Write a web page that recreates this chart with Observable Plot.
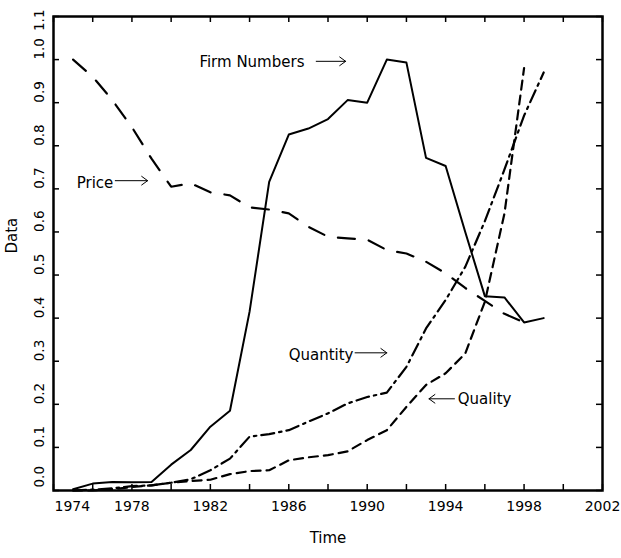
<!DOCTYPE html>
<html>
<head>
<meta charset="utf-8">
<script src="https://cdn.jsdelivr.net/npm/d3@7"></script>
<script src="https://cdn.jsdelivr.net/npm/@observablehq/plot@0.6"></script>
<style>
  html, body { margin: 0; padding: 0; background: #fff; }
</style>
</head>
<body>
<div id="chart"></div>
<script>
// ---- data ----
const years = d3.range(1975, 2000); // 1975..1999
const firm = [0.003, 0.016, 0.020, 0.019, 0.020, 0.060, 0.094, 0.148, 0.185, 0.415,
              0.716, 0.826, 0.840, 0.862, 0.906, 0.900, 1.000, 0.993, 0.772, 0.753,
              0.600, 0.451, 0.448, 0.390, 0.400];
const price = [1.000, 0.960, 0.906, 0.843, 0.770, 0.705, 0.713, 0.692, 0.685, 0.657,
               0.652, 0.643, 0.612, 0.589, 0.585, 0.582, 0.558, 0.550, 0.531, 0.504,
               0.470, 0.440, 0.410, 0.390];
const quantity = [0.000, 0.002, 0.005, 0.010, 0.012, 0.018, 0.026, 0.047, 0.074, 0.125,
                  0.131, 0.140, 0.160, 0.179, 0.202, 0.217, 0.227, 0.287, 0.376, 0.442,
                  0.519, 0.625, 0.745, 0.870, 0.970];
const quality = [0.000, 0.000, 0.003, 0.008, 0.012, 0.018, 0.022, 0.025, 0.038, 0.045,
                 0.047, 0.070, 0.077, 0.082, 0.091, 0.117, 0.140, 0.194, 0.245, 0.272,
                 0.318, 0.438, 0.643, 0.980];

const xTickLabels = [1974, 1978, 1982, 1986, 1990, 1994, 1998, 2002];
const xMinorTicks = d3.range(1974, 2003, 2);
const yTickValues = d3.range(0, 11.5, 1).map(d => d / 10);

// annotations (data coordinates)
const annText = ["Firm Numbers", "Price", "Quantity", "Quality"];
const annTextX = [1986.8, 1977.05, 1989.3, 1994.62];
const annTextY = [0.993, 0.714, 0.314, 0.212];
const annArrowX1 = [1987.4, 1977.15, 1989.38, 1994.45];
const annArrowX2 = [1988.9, 1978.8, 1991.0, 1993.15];
const annArrowY = [0.996, 0.719, 0.3195, 0.2128];

// ---- build tables ----
const toRows = arr => arr.map((v, i) => ({t: years[i], v}));
const firmRows = toRows(firm);
const priceRows = toRows(price);
const quantityRows = toRows(quantity);
const qualityRows = toRows(quality);
const annRows = annText.map((s, i) => ({s, x: annTextX[i], y: annTextY[i],
  x1: annArrowX1[i], x2: annArrowX2[i], ay: annArrowY[i]}));

const W = 621, H = 558;
const mL = 53, mR = 19, mT = 16, mB = 68;
const innerW = W - mL - mR, innerH = H - mT - mB;
const tick = 6;

const yFirst = yTickValues.slice(0, 1);
const yMid = yTickValues.slice(1, -1);
const yLast = yTickValues.slice(-1);
const yLabelOpts = {y: d => d, frameAnchor: "left", dx: -14, rotate: -90, text: d => d.toFixed(1), fontSize: 13.5};

const chart = Plot.plot({
  width: W, height: H,
  marginLeft: mL, marginRight: mR, marginTop: mT, marginBottom: mB,
  x: {domain: [1974, 2002], axis: null},
  y: {domain: [0, 1.1], axis: null},
  style: {fontFamily: "'DejaVu Sans', sans-serif", fontSize: "14px", color: "black", background: "white", overflow: "visible"},
  marks: [
    // inward ticks on all four sides
    Plot.tickX(xMinorTicks, {x: d => d, insetTop: innerH - tick, stroke: "black", strokeWidth: 1.5}),
    Plot.tickX(xMinorTicks, {x: d => d, insetBottom: innerH - tick, stroke: "black", strokeWidth: 1.5}),
    Plot.tickY(yTickValues, {y: d => d, insetRight: innerW - tick, stroke: "black", strokeWidth: 1.5}),
    Plot.tickY(yTickValues, {y: d => d, insetLeft: innerW - tick, stroke: "black", strokeWidth: 1.5}),
    // series
    Plot.line(firmRows, {x: "t", y: "v", stroke: "black", strokeWidth: 2}),
    Plot.line(priceRows, {x: "t", y: "v", stroke: "black", strokeWidth: 2.2, strokeDasharray: "17,14"}),
    Plot.line(quantityRows, {x: "t", y: "v", stroke: "black", strokeWidth: 2.2, strokeDasharray: "13,5,2.5,5"}),
    Plot.line(qualityRows, {x: "t", y: "v", stroke: "black", strokeWidth: 2.2, strokeDasharray: "9,6"}),
    // frame
    Plot.frame({stroke: "black", strokeWidth: 2.5}),
    // tick labels
    Plot.text(xTickLabels.slice(1), {x: d => d, frameAnchor: "bottom", dy: 20, text: d => String(d), fontSize: 14}),
    Plot.text(xTickLabels.slice(0, 1), {x: d => d, frameAnchor: "bottom", dy: 20, text: d => String(d), textAnchor: "start", dx: 1, fontSize: 14}),
    Plot.text(yFirst, {...yLabelOpts, dy: -3}),
    Plot.text(yMid, yLabelOpts),
    Plot.text(yLast, {...yLabelOpts, textAnchor: "end", dy: -7}),
    // axis titles
    Plot.text(["Time"], {frameAnchor: "bottom", dy: 52, text: d => d, fontSize: 15}),
    Plot.text(["Data"], {frameAnchor: "left", dx: -41, rotate: -90, text: d => d, fontSize: 15}),
    // annotations
    Plot.text(annRows.filter(d => d.s !== "Quality"), {x: "x", y: "y", text: "s", textAnchor: "end", fontSize: 15}),
    Plot.text(annRows.filter(d => d.s === "Quality"), {x: "x", y: "y", text: "s", textAnchor: "start", fontSize: 15}),
    Plot.arrow(annRows, {x1: "x1", x2: "x2", y1: "ay", y2: "ay", stroke: "black", strokeWidth: 1, headLength: 11, headAngle: 72})
  ]
});
document.getElementById("chart").appendChild(chart);
</script>
</body>
</html>
